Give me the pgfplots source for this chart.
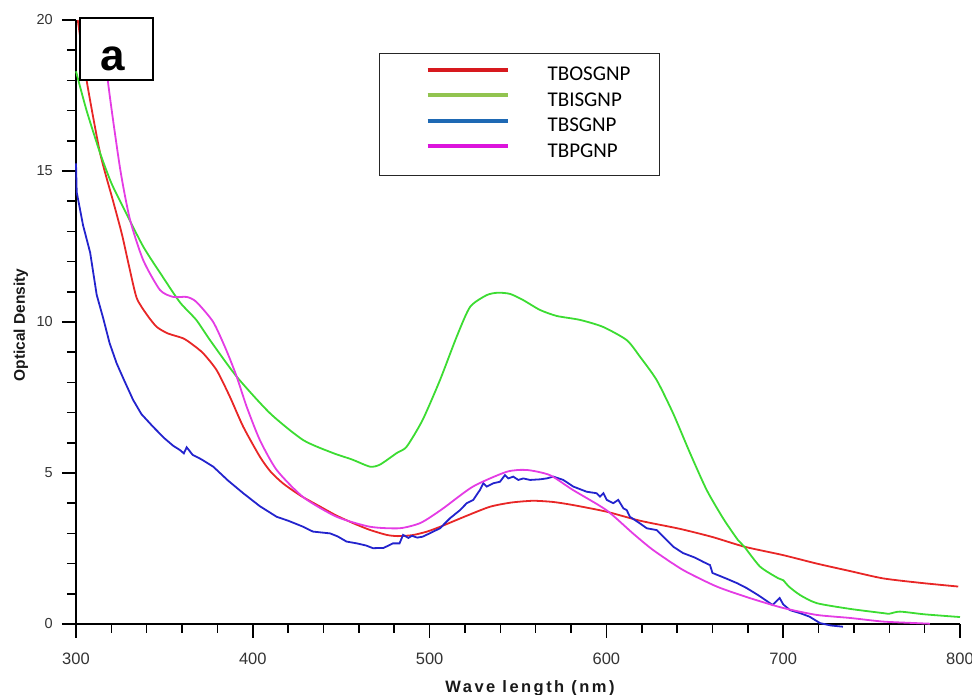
\documentclass[border=0pt]{standalone}
\usepackage{fontspec}
\setmainfont{Liberation Sans}
\newfontfamily\carlito{Carlito}
\usepackage{pgfplots}
\pgfplotsset{compat=1.18}
\definecolor{cRed}{RGB}{232,38,38}
\definecolor{cGreen}{RGB}{60,220,50}
\definecolor{cBlue}{RGB}{35,35,205}
\definecolor{cMag}{RGB}{228,60,228}
\definecolor{lRed}{RGB}{215,25,30}
\definecolor{lGreen}{RGB}{146,196,80}
\definecolor{lBlue}{RGB}{30,105,180}
\definecolor{lMag}{RGB}{220,20,220}
\begin{document}
\begin{tikzpicture}
\begin{axis}[
  at={(0,0)}, anchor=south west,
  scale only axis, width=884pt, height=604pt,
  xmin=300, xmax=800, ymin=0, ymax=20,
  axis lines*=left,
  axis line style={line width=1.5pt, black},
  clip=false,
  xtick={300,400,...,800}, minor x tick num=4,
  ytick={0,5,...,20}, minor y tick num=4,
  xtick align=outside, ytick align=outside,
  major tick length=14pt, minor tick length=9pt,
  tick style={line width=1.5pt, black},
  /pgf/number format/assume math mode=true,
  /pgf/number format/set thousands separator={},
  xticklabel style={font=\fontsize{16.5}{18}\selectfont, text=black!80, inner sep=0pt, anchor=north, yshift=-15pt},
  yticklabel style={font=\fontsize{14.5}{16}\selectfont, text=black!80, inner sep=0pt, anchor=east, xshift=-9pt},
  xlabel={\addfontfeature{LetterSpace=15}Wave length (nm)},
  ylabel={Optical Density},
  xlabel style={font=\fontsize{16.5}{18}\bfseries\selectfont, text=black!90, at={(axis description cs:0.5136,-0.1142)}, anchor=base, inner sep=0pt},
  ylabel style={font=\fontsize{15.5}{18}\bfseries\selectfont, text=black!90, at={(axis description cs:-0.0577,0.495)}, anchor=base, inner sep=0pt},
  legend cell align=left,
  legend style={
    at={(axis description cs:0.3428,0.945)}, anchor=north west,
    draw=black!85, line width=1.2pt, fill=white,
    inner xsep=29pt, inner ysep=14pt,
    font=\carlito\fontsize{21}{24}\selectfont,
    nodes={inner sep=0pt, text height=13pt, text depth=4pt},
    row sep=8.3pt,
    /tikz/every odd column/.append style={column sep=38pt},
  },
  legend image code/.code={
    \path[draw=none] (0pt,0pt) -- (99pt,0pt);
    \draw[#1, line width=4pt] (19pt,6.6pt) -- (99pt,6.6pt);
  },
]
\addlegendimage{color=lRed}
\addlegendentry{TBOSGNP}
\addlegendimage{color=lGreen}
\addlegendentry{TBISGNP}
\addlegendimage{color=lBlue}
\addlegendentry{TBSGNP}
\addlegendimage{color=lMag}
\addlegendentry{TBPGNP}

% TBOSGNP (red)
\addplot[cRed, line width=1.8pt, smooth, tension=0.4, forget plot] coordinates {
(301,20.0) (306,18.0) (313.6,15.6) (321,14.0) (326,12.9) (330,11.85) (334.3,10.8) (340,10.25)
(345.6,9.84) (352,9.62) (360.6,9.46) (366,9.25) (372,8.96) (379.6,8.4) (387,7.53)
(394.6,6.53) (404,5.54) (410,5.05) (417,4.66) (427,4.25) (438,3.89) (447,3.6)
(456.7,3.34) (466,3.12) (475.7,2.95) (482,2.91) (490,2.94) (498,3.05) (506,3.22)
(520,3.56) (534,3.88) (546,4.02) (558.5,4.08) (570,4.04) (581,3.94) (600,3.72)
(619,3.42) (641.6,3.15) (660,2.88) (678,2.56) (700,2.28) (719,2.0) (738,1.75)
(756.5,1.51) (778,1.36) (799,1.24)
};
% TBISGNP (green)
\addplot[cGreen, line width=1.8pt, smooth, tension=0.4, forget plot] coordinates {
(300,18.3) (306,17.0) (313.6,15.6) (320,14.6) (326.7,13.8) (338,12.5) (349,11.5)
(358.8,10.65) (368,10.07) (375.8,9.4) (390.9,8.19) (409.7,6.98) (428.5,6.09)
(445.4,5.66) (456,5.45) (466.3,5.21) (472,5.28) (481.4,5.66) (487,5.87) (496,6.75)
(505.9,8.08) (515.3,9.51) (522.9,10.5) (532.3,10.89) (538.7,10.97) (545.5,10.93)
(552.8,10.73) (562.4,10.4) (571.9,10.2) (585,10.07) (598,9.84) (611.5,9.4)
(619,8.85) (628.4,8.08) (637.7,6.98) (647.3,5.66) (656.7,4.44) (666,3.5)
(674.4,2.78) (678,2.56) (686.9,1.9) (697,1.52) (700,1.45) (703,1.25) (709.5,0.96)
(719,0.69) (737.8,0.5) (756.6,0.36) (760,0.34) (766,0.41) (780,0.32) (800,0.23)
};
% TBSGNP (blue)
\addplot[cBlue, line width=1.8pt, forget plot] coordinates {
(300,15.25) (300.4,14.3) (304,13.2) (308,12.3) (311.7,10.9) (315.5,10.1) (319,9.3)
(323,8.63) (327,8.1) (332.3,7.42) (337,6.95) (343.6,6.53) (350,6.15) (355,5.9)
(358.8,5.76) (361,5.65) (362.6,5.85) (366,5.6) (371,5.45) (377.6,5.21) (386,4.75)
(394.6,4.33) (404,3.9) (413.5,3.55) (420,3.42) (428.5,3.22) (434,3.06) (443.7,3.0)
(448,2.9) (453,2.73) (458.8,2.67) (464,2.6) (468,2.51) (474,2.52) (479.3,2.67)
(483,2.67) (485,2.95) (488,2.85) (490,2.92) (493,2.86) (496,2.89) (500,3.0)
(505.9,3.17) (511.5,3.5) (517.2,3.77) (521,4.0) (524.7,4.11) (528.5,4.44)
(530.4,4.66) (532.3,4.55) (536,4.66) (539.8,4.71) (542.6,4.93) (544.5,4.82)
(547.3,4.88) (550.2,4.77) (553,4.82) (556.8,4.77) (562.4,4.79) (566.2,4.82)
(570,4.88) (575.6,4.77) (581.3,4.55) (588.8,4.38) (594.5,4.33) (596.4,4.22)
(598.3,4.33) (600.2,4.11) (603.9,4.0) (606.7,4.11) (609.6,3.83) (611.5,3.77)
(613.3,3.55) (619,3.33) (622.8,3.17) (628.4,3.11) (632.2,2.89) (637.8,2.56)
(643.3,2.35) (650,2.2) (655,2.05) (658.6,1.95) (660,1.69) (668,1.5) (674,1.35)
(679.3,1.19) (686,0.95) (694,0.63) (698,0.86) (700,0.65) (703.8,0.46) (710,0.35)
(715,0.24) (720.8,0.03) (727,-0.05) (733.8,-0.09)
};
% TBPGNP (magenta)
\addplot[cMag, line width=1.8pt, smooth, tension=0.4, forget plot] coordinates {
(315.5,20) (318,18) (324.9,15.1) (330.5,13.4) (338,12.05) (347.5,11.06) (355,10.83)
(362.6,10.83) (368,10.67) (377.6,10.0) (385,9.07) (390.9,8.19) (396.5,7.2)
(404,6.09) (413.5,5.1) (428.5,4.2) (447.4,3.55) (466.3,3.22) (483,3.17) (495,3.35)
(507,3.8) (524.5,4.55) (543.6,5.04) (555,5.1) (568,4.93) (581,4.44) (600,3.77)
(615,3.0) (626.4,2.45) (643.3,1.79) (662.4,1.24) (681,0.86) (700,0.53) (719,0.3)
(737.8,0.2) (756.5,0.08) (775,0.03) (783,0.01)
};
\node[draw=black, line width=1.5pt, fill=white, minimum width=73pt, minimum height=62pt, inner sep=0pt] at (axis description cs:0.0458,0.952) {};
\node[font=\fontsize{44}{44}\bfseries\selectfont, inner sep=0pt, anchor=base] at (axis description cs:0.0413,0.9156) {a};
\end{axis}
\pgfresetboundingbox
\useasboundingbox (-76pt,-71pt) rectangle (896pt,624pt);
\end{tikzpicture}
\end{document}
